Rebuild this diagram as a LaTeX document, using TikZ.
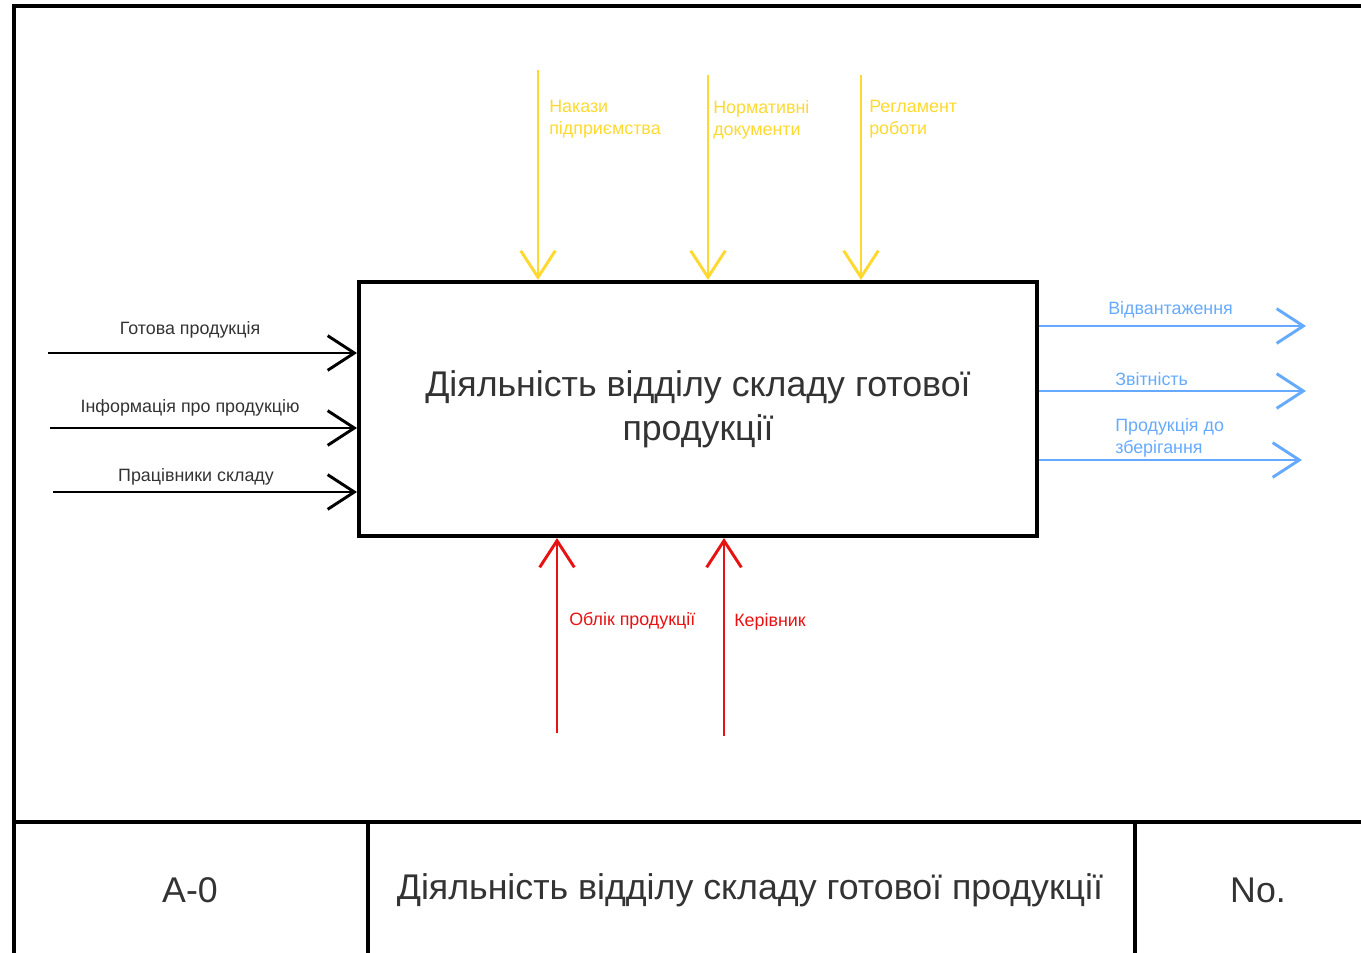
\documentclass[tikz,border=0pt]{standalone}
\usepackage{fontspec}
\setmainfont{Liberation Sans}
\usetikzlibrary{arrows.meta}
\usetikzlibrary{positioning}

\definecolor{ctrlc}{RGB}{255,217,47}
\definecolor{outc}{RGB}{102,170,255}
\definecolor{mechc}{RGB}{232,18,18}
\definecolor{txtc}{RGB}{51,51,51}

\tikzset{
  arr/.style={line width=2.2pt, -{Straight Barb[length=20pt,width=26pt]}},
  lbl/.style={font=\fontsize{13.4}{16.5}\selectfont, inner sep=0pt, align=left},
  big/.style={font=\fontsize{26.8}{33}\selectfont, text=txtc, inner sep=0pt, align=center},
  frame/.style={line width=3pt}
}

\begin{document}
\begin{tikzpicture}[x=0.75pt,y=-0.75pt]
\useasboundingbox (0,0) rectangle (1361,953);
% frame
\draw[frame] (14,953) -- (14,6) -- (1361,6);
\draw[frame] (14,822) -- (1361,822);
\draw[frame] (368,822) -- (368,953);
\draw[frame] (1135,822) -- (1135,953);
\node[big] (num) at (190,890) {A-0};
\node[big] (title) at (750,890) {Діяльність відділу складу готової продукції};
\node[big] (no) at (1258,890) {No.};
% main box
\node[draw, line width=3pt, minimum width=508.5pt, minimum height=190.5pt, big] (box) at (698,409)
  {Діяльність відділу складу готової\\продукції};
% controls
\foreach \x/\y/\d/\t [count=\i] in {538/70/11/{Накази\\підприємства}, 708/75/5/{Нормативні\\документи}, 861/75/8/{Регламент\\роботи}} {
  \coordinate (c_\i) at (\x,\y);
  \draw[arr, ctrlc] (c_\i) -- (c_\i |- box.north);
  \node[lbl, text=ctrlc, anchor=north west] (cl_\i) at (\x+\d,100) {\t};
}
% inputs
\foreach \x/\y/\lx/\ly/\t [count=\i] in {48/353/190/330/{Готова продукція}, 50/428/190/408/{Інформація про продукцію}, 53/492/196/477/{Працівники складу}} {
  \coordinate (i_\i) at (\x,\y);
  \draw[arr, black] (i_\i) -- (i_\i -| box.west);
  \node[lbl, text=txtc] (il_\i) at (\lx,\ly) {\t};
}
% outputs
\foreach \x/\y/\lx/\ly/\t [count=\i] in {1306/326/1108/310/{Відвантаження}, 1306/391/1115/379/{Звітність}, 1302/460/1115/437.5/{Продукція до\\зберігання}} {
  \coordinate (o_\i) at (\x,\y);
  \draw[arr, outc] (o_\i -| box.east) -- (o_\i);
  \node[lbl, text=outc, anchor=west] (ol_\i) at (\lx,\ly) {\t};
}
% mechanisms
\foreach \x/\y/\lx/\ly/\t [count=\i] in {557/733/569/621/{Облік продукції}, 724/736/734/622/{Керівник}} {
  \coordinate (m_\i) at (\x,\y);
  \draw[arr, mechc] (m_\i) -- (m_\i |- box.south);
  \node[lbl, text=mechc, anchor=west] (ml_\i) at (\lx,\ly) {\t};
}
\end{tikzpicture}
\end{document}
